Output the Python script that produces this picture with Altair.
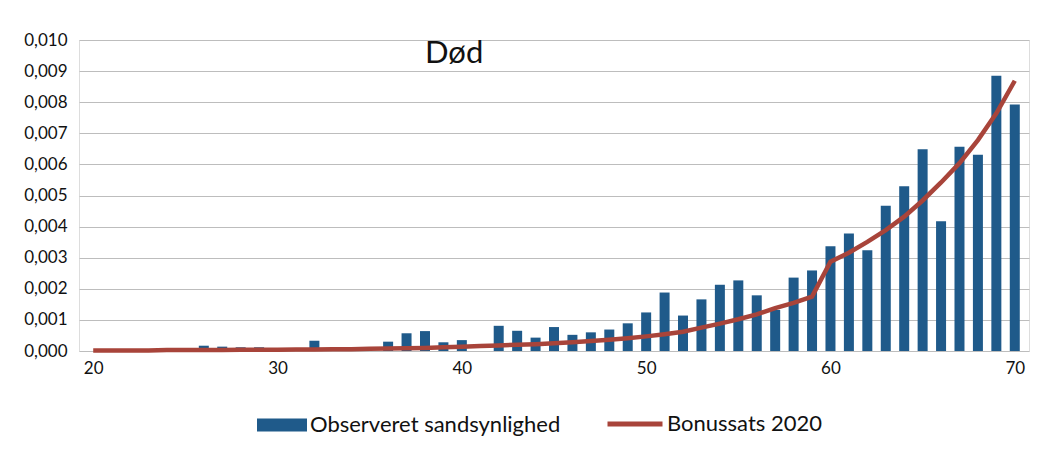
import altair as alt
import pandas as pd

ages = list(range(20, 71))
observed = [
    0.0, 0.0, 0.0, 0.0, 0.0, 0.0,            # 20-25
    0.00017, 0.00014, 0.00012, 0.00012,      # 26-29
    0.0, 0.0, 0.00033, 0.0, 0.0, 0.0,        # 30-35
    0.00030, 0.00057, 0.00064, 0.00028, 0.00035,  # 36-40
    0.0, 0.00081, 0.00065, 0.00043, 0.00077,      # 41-45
    0.00052, 0.00060, 0.00069, 0.00089, 0.00124,  # 46-50
    0.00188, 0.00114, 0.00166, 0.00213, 0.00227,  # 51-55
    0.00179, 0.00132, 0.00236, 0.00259, 0.00337,  # 56-60
    0.00378, 0.00324, 0.00467, 0.00530, 0.00649,  # 61-65
    0.00417, 0.00657, 0.00631, 0.00885, 0.00793,  # 66-70
]
bonus = [
    0.00002, 0.00002, 0.00002, 0.00002, 0.00003, 0.00003, 0.00003, 0.00003,
    0.00004, 0.00004, 0.00004, 0.00005, 0.00005, 0.00006, 0.00006, 0.00007,
    0.00008, 0.00009, 0.00010, 0.00012, 0.00014, 0.00016, 0.00018, 0.00020,
    0.00022, 0.00025, 0.00028, 0.00032, 0.00036, 0.00041, 0.00047, 0.00054,
    0.00062, 0.00075, 0.00088, 0.00102, 0.00118, 0.00138, 0.00155, 0.00175,
    0.00287, 0.00316, 0.00351, 0.00389, 0.00432, 0.00484, 0.00542, 0.00604,
    0.00678, 0.00764, 0.00869,
]
series_names = ["Observeret sandsynlighed", "Bonussats 2020"]
chart_title = ["Død"]
x_ticks = [20, 30, 40, 50, 60, 70]
y_ticks = [0.000, 0.001, 0.002, 0.003, 0.004, 0.005, 0.006, 0.007, 0.008, 0.009, 0.010]

bar_df = pd.DataFrame({"age": ages, "value": observed, "series": series_names[0]})
line_df = pd.DataFrame({"age": ages, "value": bonus, "series": series_names[1]})
title_df = pd.DataFrame({"t": chart_title})

FONT = "Lato"
BLUE = "#1f5a8a"
RED = "#a8443a"

x_enc = alt.X(
    "age:Q",
    scale=alt.Scale(domain=[19.5, 70.5], nice=False, zero=False),
    axis=alt.Axis(values=x_ticks, title=None, grid=False, ticks=False, domain=False,
                  labelFontSize=17, labelFont=FONT, labelPadding=9, labelColor="#111",
                  labelOverlap=False),
)
y_enc = alt.Y(
    "value:Q",
    scale=alt.Scale(domain=[0, 0.010], nice=False),
    axis=alt.Axis(values=y_ticks, tickCount=11, title=None, ticks=False, domain=False,
                  labelExpr="replace(format(datum.value, '.3f'), '.', ',')",
                  labelFontSize=17, labelFont=FONT, labelPadding=12, labelColor="#111",
                  labelOverlap=False, labelBound=False, gridColor="#bdbdbd", gridWidth=1),
)

bars = alt.Chart(bar_df).mark_bar(size=10).encode(
    x=x_enc,
    y=y_enc,
    fill=alt.Fill(
        "series:N",
        scale=alt.Scale(domain=[series_names[0]], range=[BLUE]),
        legend=alt.Legend(title=None, orient="none", legendX=178, legendY=360,
                          symbolType="M-1,-0.26H1V0.26H-1Z", symbolSize=2500,
                          symbolStrokeWidth=0, labelFontSize=22, labelFont=FONT,
                          labelColor="#111", labelOffset=3, labelLimit=400),
    ),
)

line = alt.Chart(line_df).mark_line(strokeWidth=4.5).encode(
    x=x_enc,
    y=y_enc,
    stroke=alt.Stroke(
        "series:N",
        scale=alt.Scale(domain=[series_names[1]], range=[RED]),
        legend=alt.Legend(title=None, orient="none", legendX=526, legendY=354,
                          symbolType="stroke", symbolSize=3025, symbolStrokeWidth=5,
                          labelFontSize=22, labelFont=FONT, labelColor="#111",
                          labelOffset=2, labelLimit=400),
    ),
)

title_text = alt.Chart(title_df).mark_text(
    align="left", baseline="alphabetic", fontSize=31, font=FONT, color="#111"
).encode(text="t:N", x=alt.value(346), y=alt.value(23))

chart = (
    alt.layer(bars, line, title_text)
    .resolve_scale(fill="independent", stroke="independent")
    .properties(
        width=950,
        height=311,
        padding={"left": 71, "top": 32, "right": 5, "bottom": 97},
        autosize=alt.AutoSizeParams(type="none"),
    )
    .configure_view(stroke=None)
    .configure(background="white")
)

chart.save("out.html", embed_options={"renderer": "svg", "actions": False})
